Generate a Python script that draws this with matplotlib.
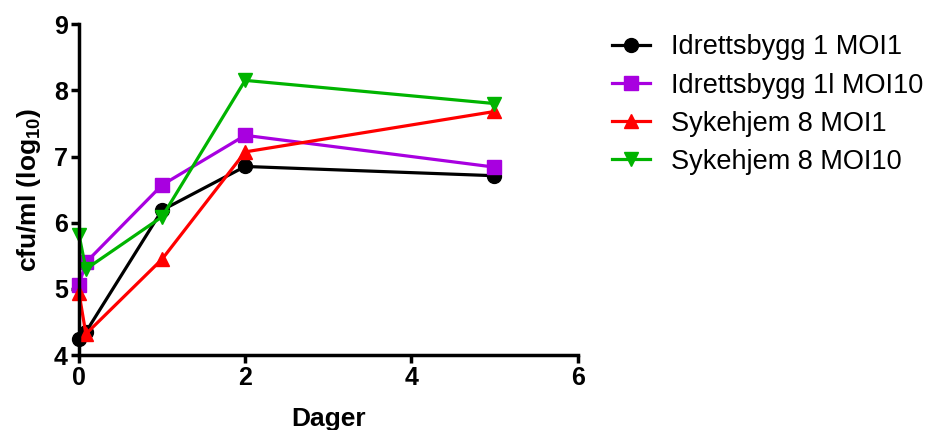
import matplotlib.pyplot as plt

plt.rcParams['font.family'] = ['Liberation Sans', 'DejaVu Sans']
plt.rcParams['mathtext.fontset'] = 'custom'
plt.rcParams['mathtext.rm'] = 'Liberation Sans'
plt.rcParams['mathtext.bf'] = 'Liberation Sans:bold'

days = [0, 0.083, 1, 2, 5]

idrett_moi1 = [4.25, 4.35, 6.19, 6.85, 6.71]
idrett_moi10 = [5.06, 5.40, 6.57, 7.32, 6.84]
syke_moi1 = [4.94, 4.32, 5.45, 7.07, 7.68]
syke_moi10 = [5.82, 5.30, 6.09, 8.15, 7.80]

labels = ["Idrettsbygg 1 MOI1", "Idrettsbygg 1l MOI10",
          "Sykehjem 8 MOI1", "Sykehjem 8 MOI10"]
colors = ["black", "#a800e0", "#ff0000", "#00b400"]
markers = ["o", "s", "^", "v"]

fig = plt.figure(figsize=(9.25, 4.3), dpi=100)
ax = fig.add_axes([0.0854, 0.174, 0.539, 0.77])

for vals, lab, c, m in zip([idrett_moi1, idrett_moi10, syke_moi1, syke_moi10],
                           labels, colors, markers):
    ax.plot(days, vals, color=c, marker=m, markersize=10, linewidth=2.3,
            label=lab, clip_on=False)

ax.set_xlim(0, 6)
ax.set_ylim(4, 9)
ax.set_xticks([0, 2, 4, 6])
ax.set_yticks([4, 5, 6, 7, 8, 9])
for s in ['top', 'right']:
    ax.spines[s].set_visible(False)
for s in ['left', 'bottom']:
    ax.spines[s].set_linewidth(2.5)
ax.tick_params(width=2.5, length=6, labelsize=18, pad=2)
for t in ax.get_xticklabels() + ax.get_yticklabels():
    t.set_fontweight('bold')

ax.set_xlabel("Dager", fontsize=19, fontweight='bold', labelpad=12)
ax.set_ylabel("cfu/ml (log$_{\\mathbf{10}}$)", fontsize=19, fontweight='bold',
              labelpad=8)

fig.legend(*ax.get_legend_handles_labels(), loc='upper left',
           bbox_to_anchor=(0.662, 0.92), frameon=False, borderpad=0,
           borderaxespad=0, fontsize=19.5, labelspacing=0.45,
           handlelength=1.4, handletextpad=0.75)

fig.savefig("out.png", dpi=100)
